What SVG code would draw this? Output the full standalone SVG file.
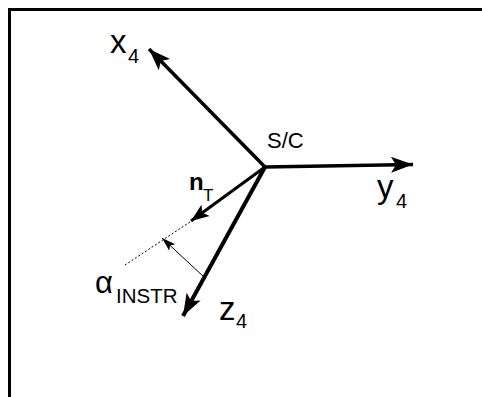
<svg xmlns="http://www.w3.org/2000/svg" width="482" height="397" viewBox="0 0 482 397">
<style>
.t{font-family:"Liberation Sans",Arial,sans-serif;fill:#000}
.ax{stroke:#000;fill:none;stroke-linecap:butt}
</style>
<defs>
<marker id="ah" markerUnits="userSpaceOnUse" markerWidth="30" markerHeight="24" viewBox="-24 -12 30 24" refX="0" refY="0" orient="auto">
<path d="M0,0 L-22,-8 L-17,0 L-22,8 Z" fill="#000"/>
</marker>
<marker id="ahs" markerUnits="userSpaceOnUse" markerWidth="24" markerHeight="20" viewBox="-20 -10 24 20" refX="0" refY="0" orient="auto">
<path d="M0,0 L-18,-7 L-14,0 L-18,7 Z" fill="#000"/>
</marker>
<marker id="aht" markerUnits="userSpaceOnUse" markerWidth="18" markerHeight="12" viewBox="-16 -6 18 12" refX="0" refY="0" orient="auto">
<path d="M0,0 L-14,-4.5 L-11,0 L-14,4.5 Z" fill="#000"/>
</marker>
</defs>
<rect width="482" height="397" fill="#fff"/>
<g id="frame">
<path d="M9.5,397 V9.5 H482" fill="none" stroke="#000" stroke-width="3"/>
</g>
<g id="connectors">
<line class="ax" x1="265" y1="167" x2="149" y2="49" stroke-width="3.5" marker-end="url(#ah)"/>
<line class="ax" x1="265" y1="167" x2="413" y2="164.5" stroke-width="3.5" marker-end="url(#ah)"/>
<line class="ax" x1="265" y1="167" x2="183" y2="316" stroke-width="4" marker-end="url(#ah)"/>
<line class="ax" x1="265" y1="167" x2="191" y2="221" stroke-width="3" marker-end="url(#ahs)"/>
<line class="ax" x1="190" y1="222" x2="125" y2="265" stroke-width="1" stroke-dasharray="2,2"/>
<line class="ax" x1="204" y1="277" x2="162" y2="238" stroke-width="1" marker-end="url(#aht)"/>
</g>
<g id="sc"><text class="t" x="267" y="148" font-size="22">S/C</text></g>
<g id="x4"><text class="t" x="110" y="53" font-size="33">x</text><text class="t" x="128" y="63" font-size="20">4</text></g>
<g id="y4"><text class="t" x="377" y="198" font-size="33">y</text><text class="t" x="396" y="208" font-size="20">4</text></g>
<g id="z4"><text class="t" x="219" y="320" font-size="33">z</text><text class="t" x="236" y="328" font-size="20">4</text></g>
<g id="nT"><text class="t" x="189" y="190" font-size="24" font-weight="bold">n</text><text class="t" x="203" y="201" font-size="17">T</text></g>
<g id="alpha"><text class="t" x="95" y="293" font-size="31">α</text><text class="t" x="116" y="303" font-size="20.5">INSTR</text></g>
</svg>
